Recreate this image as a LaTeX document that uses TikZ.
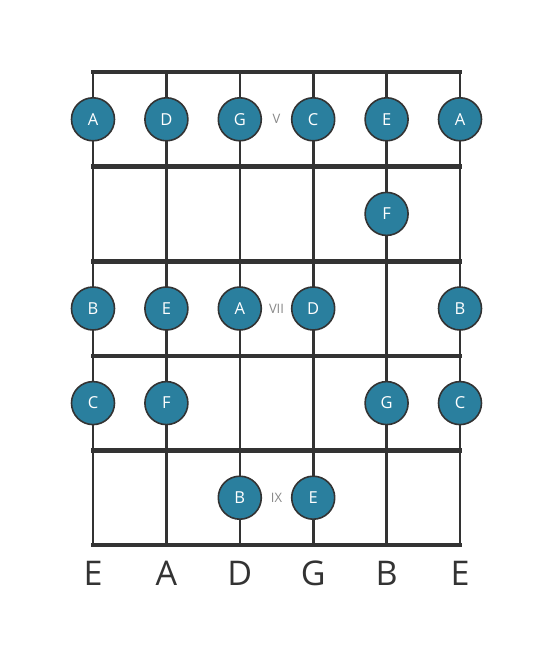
\documentclass[tikz,border=0pt]{standalone}
\usepackage{fontspec}
\setmainfont{Open Sans}
\definecolor{notefill}{HTML}{2A7F9E}
\definecolor{linegray}{HTML}{333333}
\definecolor{fretgray}{HTML}{888888}
\begin{document}
\begin{tikzpicture}[x=1pt,y=-1pt,line join=round,
	note/.style={circle,draw=linegray,line width=1.6pt,fill=notefill,minimum size=43pt,inner sep=0pt,text=white,font=\fontsize{16.5}{16.5}\selectfont},
	fretno/.style={text=fretgray,font=\fontsize{13}{13}\selectfont},
	strname/.style={text=linegray,font=\fontsize{34}{34}\selectfont}]
	\useasboundingbox (0,0) rectangle (553,656);
	\def\xa{93}  % string 1
	\def\dx{73.4} % string spacing
	\def\ya{72}  % nut
	\def\dy{94.6} % fret spacing
	% strings
	\foreach \i in {0,...,5}{
		\path (\xa+\i*\dx,\ya) coordinate (t\i) (\xa+\i*\dx,\ya+5*\dy) coordinate (b\i);
		\draw[linegray,line width=2.6pt] (t\i)--(b\i);
	}
	% frets
	\foreach \j in {0,...,5}{
		\path (\xa,\ya+\j*\dy) coordinate (l\j) (\xa+5*\dx,\ya+\j*\dy) coordinate (r\j);
		\draw[linegray,line width=4.6pt,line cap=rect] (l\j)--(r\j);
	}
	% notes: string/fret/name
	\foreach \s/\f/\n in {0/0/A,1/0/D,2/0/G,3/0/C,4/0/E,5/0/A,
		4/1/F,
		0/2/B,1/2/E,2/2/A,3/2/D,5/2/B,
		0/3/C,1/3/F,4/3/G,5/3/C,
		2/4/B,3/4/E}
		\node[note] (n\s\f) at (\xa+\s*\dx,\ya+\f*\dy+\dy/2) {\n};
	% fret numbers
	\node[fretno] (fv) at (\xa+2.5*\dx,\ya+0.5*\dy) {V};
	\node[fretno] (fvii) at (\xa+2.5*\dx,\ya+2.5*\dy) {VII};
	\node[fretno] (fix) at (\xa+2.5*\dx,\ya+4.5*\dy) {IX};
	% string names
	\foreach \i/\n in {0/E,1/A,2/D,3/G,4/B,5/E}
		\node[strname] (nm\i) at (\xa+\i*\dx,573) {\n};
\end{tikzpicture}
\end{document}
